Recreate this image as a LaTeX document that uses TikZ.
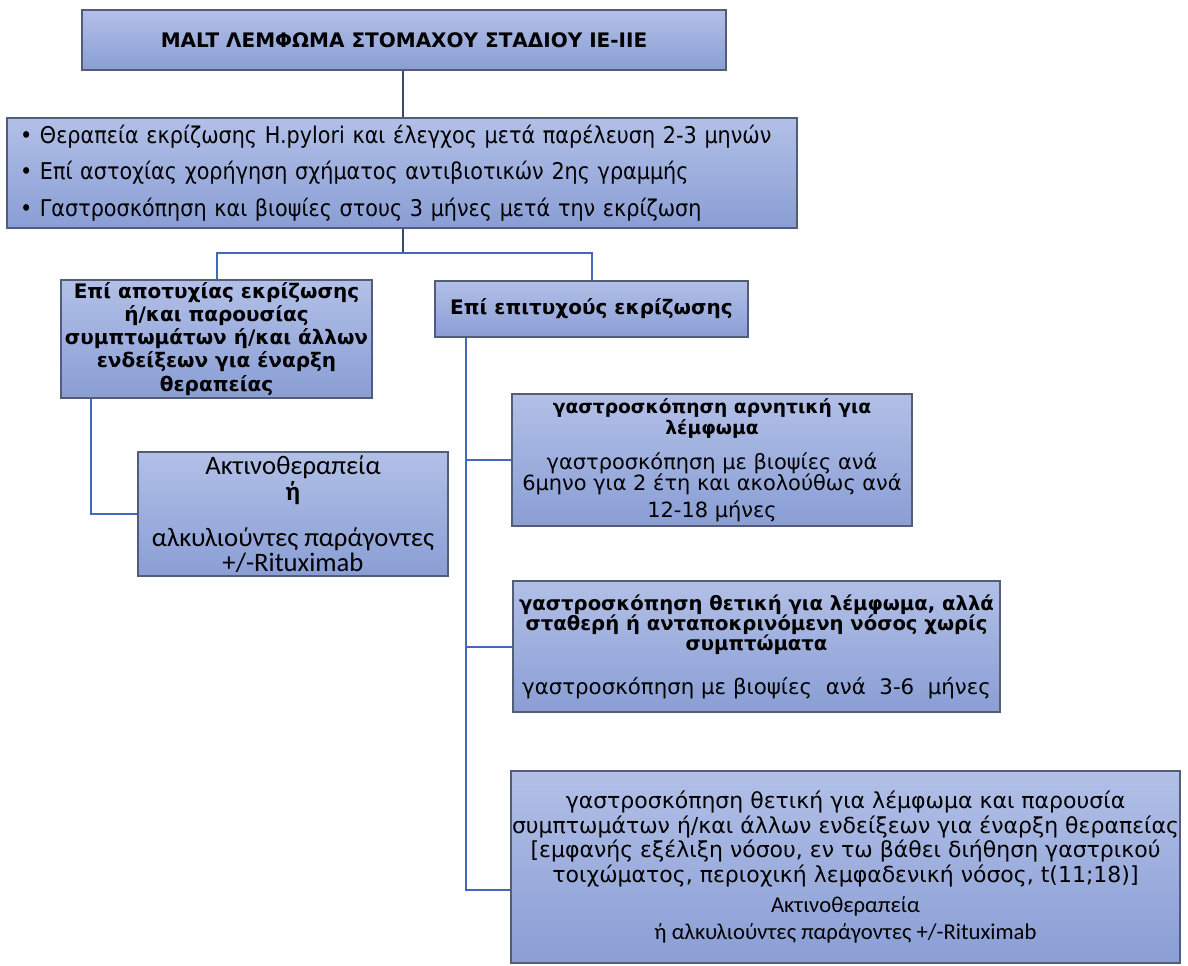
\documentclass[tikz,border=0pt]{standalone}
\usepackage{fontspec}
\setmainfont{DejaVu Sans}
\newfontfamily\condf{DejaVu Sans Condensed}
\newfontfamily\calf{Carlito}
\definecolor{boxtop}{RGB}{178,192,231}
\definecolor{boxbot}{RGB}{138,158,213}
\definecolor{boxline}{RGB}{82,94,120}
\definecolor{linkblue}{RGB}{66,104,186}
\definecolor{linkdark}{RGB}{58,74,108}
\begin{document}
\begin{tikzpicture}[x=0.75pt,y=-0.75pt,
    box/.style={draw=boxline,line width=0.8pt,top color=boxtop,bottom color=boxbot,align=center,inner sep=0pt},
    link/.style={draw=linkblue,line width=1.5pt},
    darklink/.style={draw=linkdark,line width=1.5pt},
    bold/.style={font=\fontsize{15}{17.3}\selectfont\bfseries}]
    \useasboundingbox(0,0)rectangle(1188,966);
    % boxes
    \node[box,minimum width=644*0.75pt,minimum height=60*0.75pt,font=\fontsize{15}{17}\selectfont\bfseries](title)at(404,40){MALT ΛΕΜΦΩΜΑ ΣΤΟΜΑΧΟΥ ΣΤΑΔΙΟΥ IE-IIE};
    \node[box,align=left,text width=573pt,inner xsep=9.75pt,minimum height=110*0.75pt,font=\condf\fontsize{17.3}{27.4}\selectfont](plan)at(402,173){• Θεραπεία εκρίζωσης H.pylori και έλεγχος μετά παρέλευση 2-3 μηνών\\ • Επί αστοχίας χορήγηση σχήματος αντιβιοτικών 2ης γραμμής\\ • Γαστροσκόπηση και βιοψίες στους 3 μήνες μετά την εκρίζωση};
    \node[box,bold,minimum width=311*0.75pt,minimum height=118*0.75pt](fail)at(216.5,339){Επί αποτυχίας εκρίζωσης\\ ή/και παρουσίας\\ συμπτωμάτων ή/και άλλων\\ ενδείξεων για έναρξη\\ θεραπείας};
    \node[box,bold,minimum width=313*0.75pt,minimum height=56*0.75pt](success)at(591.5,309){Επί επιτυχούς εκρίζωσης};
    \node[box,minimum width=310*0.75pt,minimum height=124*0.75pt,font=\calf\fontsize{20}{19}\selectfont](radio)at(293,514){Ακτινοθεραπεία\\[1pt] {\bfseries ή}\\[15pt] αλκυλιούντες παράγοντες\\ +/-Rituximab};
    \node[box,minimum width=400*0.75pt,minimum height=132*0.75pt,font=\fontsize{15.7}{16}\selectfont](neg)at(712,460){{\fontsize{14}{16}\selectfont\bfseries γαστροσκόπηση αρνητική για}\\ {\fontsize{14}{16}\selectfont\bfseries λέμφωμα}\\[10pt] γαστροσκόπηση με βιοψίες ανά\\[0pt] 6μηνο για 2 έτη και ακολούθως ανά\\[4pt] 12-18 μήνες};
    \node[box,minimum width=487*0.75pt,minimum height=131*0.75pt,font=\fontsize{14.7}{15}\selectfont](stable)at(756.5,646.5){{\bfseries γαστροσκόπηση θετική για λέμφωμα, αλλά}\\ {\bfseries σταθερή ή ανταποκρινόμενη νόσος χωρίς}\\ {\bfseries συμπτώματα}\\[16pt] {\fontsize{16}{15}\selectfont γαστροσκόπηση με βιοψίες\ \ ανά\ \ 3-6\ \ μήνες}};
    \node[box,minimum width=669*0.75pt,minimum height=192*0.75pt,font=\fontsize{16.5}{18.4}\selectfont](pos)at(845.5,867){γαστροσκόπηση θετική για λέμφωμα και παρουσία\\ συμπτωμάτων ή/και άλλων ενδείξεων για έναρξη θεραπείας\\ {[}εμφανής εξέλιξη νόσου, εν τω βάθει διήθηση γαστρικού\\ τοιχώματος, περιοχική λεμφαδενική νόσος, t(11;18)]\\[4pt] {\calf\fontsize{17}{19}\selectfont Ακτινοθεραπεία}\\[2pt] {\calf\fontsize{17}{19}\selectfont ή αλκυλιούντες παράγοντες +/-Rituximab}};
    % connectors
    \coordinate(split)at(403,253);
    \draw[darklink](title.south-|split)--(plan.north-|split);
    \draw[darklink](plan.south-|split)--(split);
    \draw[link](fail.north)|-(split)-|(success.north);
    \draw[link]([xshift=31*0.75pt]fail.south west)|-(radio.west);
    \coordinate(trunk)at([xshift=32*0.75pt]success.south west);
    \draw[link](trunk)|-(neg.west);
    \draw[link](trunk)|-(stable.west);
    \draw[link](trunk)|-([yshift=-23*0.75pt]pos.west);
\end{tikzpicture}
\end{document}
